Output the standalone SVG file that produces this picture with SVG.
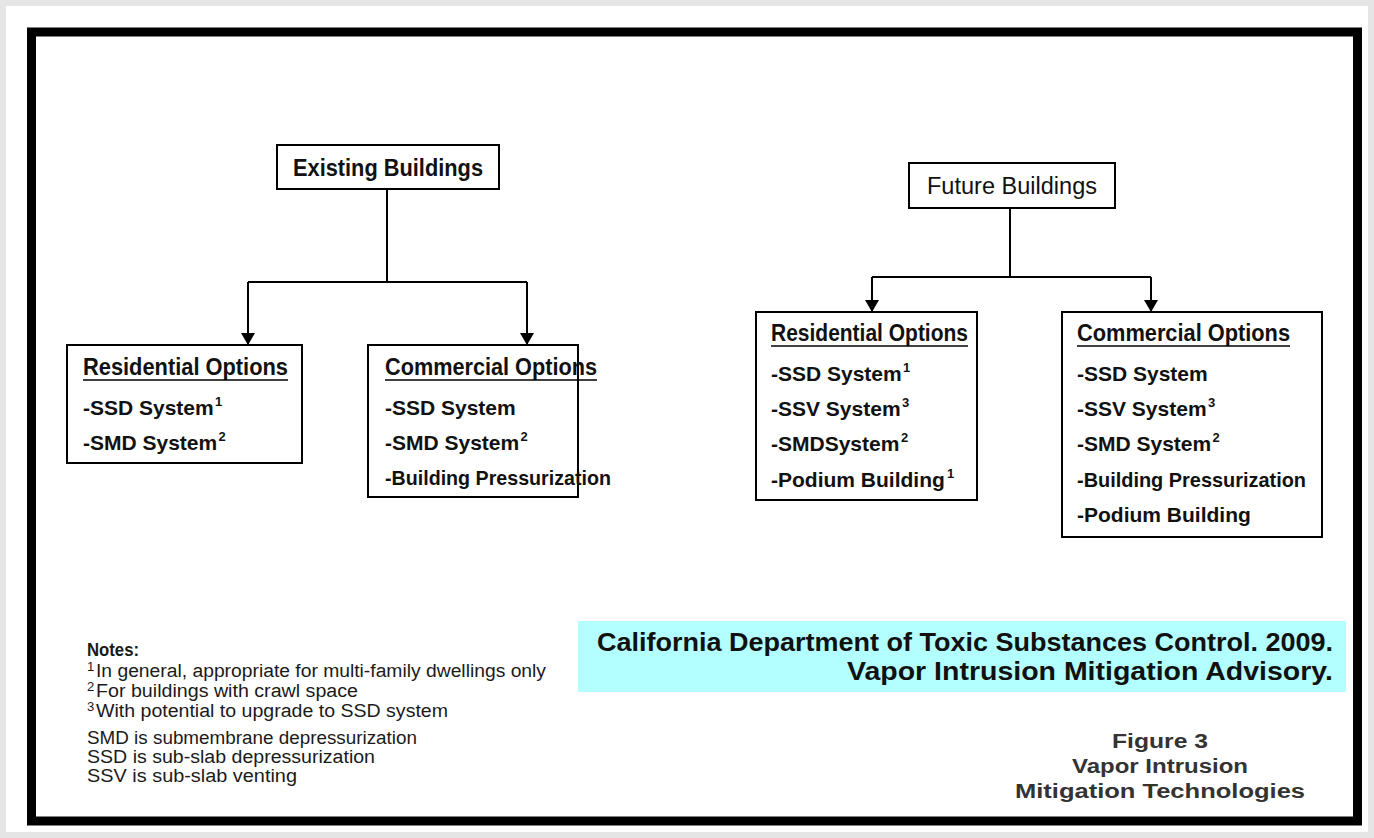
<svg xmlns="http://www.w3.org/2000/svg" width="1374" height="838" viewBox="0 0 1374 838">
<style>
.box{fill:#fff;stroke:#000;stroke-width:2}
.t{font-family:"Liberation Sans",Arial,sans-serif;font-weight:bold;fill:#111}
.h{font-size:23px}
.i{font-size:21px}
.n{font-size:18px;font-weight:normal;fill:#1a1a1a}
.u{stroke:#000;stroke-width:1.6}
.ln{fill:none;stroke:#000;stroke-width:2}
.sup{font-size:13px}
.f{font-size:20px;fill:#333}
</style>
<defs>
<marker id="ah" viewBox="0 0 12 14" refX="12" refY="7" markerWidth="12" markerHeight="14" markerUnits="userSpaceOnUse" orient="auto">
<path d="M0,0 L12,7 L0,14 z" fill="#000"/>
</marker>
</defs>
<rect x="0" y="0" width="1374" height="838" fill="#e5e5e5"/>
<rect x="6" y="6" width="1362" height="826" fill="#fff"/>
<rect x="31.5" y="32" width="1326" height="789" fill="none" stroke="#000" stroke-width="9"/>

<g id="connectors">
<path class="ln" d="M387,189 V282"/>
<path class="ln" d="M248,282 H527"/>
<path class="ln" d="M248,282 V345" marker-end="url(#ah)"/>
<path class="ln" d="M527,282 V345" marker-end="url(#ah)"/>
<path class="ln" d="M1010,208 V277"/>
<path class="ln" d="M872,277 H1151"/>
<path class="ln" d="M872,277 V312" marker-end="url(#ah)"/>
<path class="ln" d="M1151,277 V312" marker-end="url(#ah)"/>
</g>

<g id="existing">
<rect class="box" x="277" y="145" width="222" height="44"/>
<text class="t h" x="388" y="176" text-anchor="middle" textLength="190" lengthAdjust="spacingAndGlyphs">Existing Buildings</text>
</g>

<g id="future">
<rect class="box" x="909" y="163" width="206" height="45"/>
<text class="t h" x="1012" y="194" text-anchor="middle" textLength="170" lengthAdjust="spacingAndGlyphs" style="font-weight:normal">Future Buildings</text>
</g>

<g id="res-existing">
<rect class="box" x="67" y="345" width="235" height="118"/>
<text class="t h" x="83" y="375" textLength="205" lengthAdjust="spacingAndGlyphs">Residential Options</text>
<line class="u" x1="83" y1="380" x2="288" y2="380"/>
<text class="t i" x="83" y="415">-SSD System</text>
<text class="t sup" x="215" y="406">1</text>
<text class="t i" x="83" y="450">-SMD System</text>
<text class="t sup" x="218.5" y="441">2</text>
</g>

<g id="com-existing">
<rect class="box" x="368" y="345" width="210" height="152"/>
<text class="t h" x="385" y="375" textLength="212" lengthAdjust="spacingAndGlyphs">Commercial Options</text>
<line class="u" x1="385" y1="380" x2="597" y2="380"/>
<text class="t i" x="385" y="415">-SSD System</text>
<text class="t i" x="385" y="450">-SMD System</text>
<text class="t sup" x="520.5" y="441">2</text>
<text class="t i" x="385" y="485" textLength="226" lengthAdjust="spacingAndGlyphs">-Building Pressurization</text>
</g>

<g id="res-future">
<rect class="box" x="756" y="312" width="221" height="188"/>
<text class="t h" x="771" y="341" textLength="197" lengthAdjust="spacingAndGlyphs">Residential Options</text>
<line class="u" x1="771" y1="346" x2="968" y2="346"/>
<text class="t i" x="771" y="381">-SSD System</text>
<text class="t sup" x="903" y="372">1</text>
<text class="t i" x="771" y="416">-SSV System</text>
<text class="t sup" x="902" y="407">3</text>
<text class="t i" x="771" y="451">-SMDSystem</text>
<text class="t sup" x="901" y="442">2</text>
<text class="t i" x="771" y="487">-Podium Building</text>
<text class="t sup" x="947" y="478">1</text>
</g>

<g id="com-future">
<rect class="box" x="1062" y="312" width="260" height="225"/>
<text class="t h" x="1077" y="341" textLength="213" lengthAdjust="spacingAndGlyphs">Commercial Options</text>
<line class="u" x1="1077" y1="346" x2="1290" y2="346"/>
<text class="t i" x="1077" y="381">-SSD System</text>
<text class="t i" x="1077" y="416">-SSV System</text>
<text class="t sup" x="1208" y="407">3</text>
<text class="t i" x="1077" y="451">-SMD System</text>
<text class="t sup" x="1212.5" y="442">2</text>
<text class="t i" x="1077" y="487" textLength="229" lengthAdjust="spacingAndGlyphs">-Building Pressurization</text>
<text class="t i" x="1077" y="522">-Podium Building</text>
</g>

<g id="notes">
<text class="t n" x="87" y="656" textLength="52" lengthAdjust="spacingAndGlyphs" style="font-weight:bold">Notes:</text>
<text class="t n sup" x="87" y="671">1</text>
<text class="t n" x="96" y="677" textLength="450" lengthAdjust="spacingAndGlyphs">In general, appropriate for multi-family dwellings only</text>
<text class="t n sup" x="87" y="691">2</text>
<text class="t n" x="96" y="697" textLength="262" lengthAdjust="spacingAndGlyphs">For buildings with crawl space</text>
<text class="t n sup" x="87" y="711">3</text>
<text class="t n" x="96" y="717" textLength="352" lengthAdjust="spacingAndGlyphs">With potential to upgrade to SSD system</text>
<text class="t n" x="87" y="744" textLength="330" lengthAdjust="spacingAndGlyphs">SMD is submembrane depressurization</text>
<text class="t n" x="87" y="763" textLength="288" lengthAdjust="spacingAndGlyphs">SSD is sub-slab depressurization</text>
<text class="t n" x="87" y="782" textLength="210" lengthAdjust="spacingAndGlyphs">SSV is sub-slab venting</text>
</g>

<g id="citation">
<rect x="578" y="621" width="768" height="71" fill="#b3ffff"/>
<text class="t" x="1333" y="651" text-anchor="end" font-size="25" textLength="736" lengthAdjust="spacingAndGlyphs">California Department of Toxic Substances Control. 2009.</text>
<text class="t" x="1333" y="680" text-anchor="end" font-size="25" textLength="486" lengthAdjust="spacingAndGlyphs">Vapor Intrusion Mitigation Advisory.</text>
</g>

<g id="figure-title">
<text class="t f" x="1160" y="748" text-anchor="middle" textLength="96" lengthAdjust="spacingAndGlyphs">Figure 3</text>
<text class="t f" x="1160" y="773" text-anchor="middle" textLength="176" lengthAdjust="spacingAndGlyphs">Vapor Intrusion</text>
<text class="t f" x="1160" y="798" text-anchor="middle" textLength="290" lengthAdjust="spacingAndGlyphs">Mitigation Technologies</text>
</g>
</svg>
